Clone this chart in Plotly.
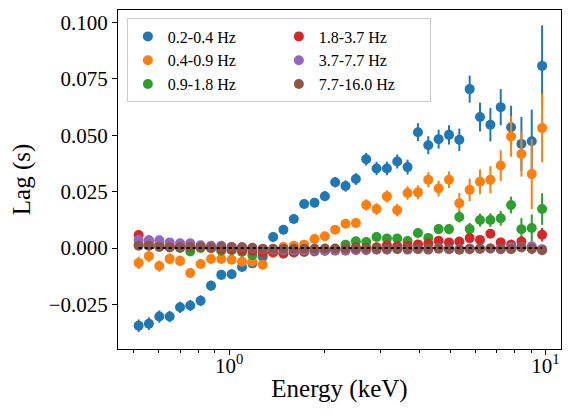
import plotly.graph_objects as go

# energy bin centres (keV)
energy = [0.518, 0.558, 0.602, 0.649, 0.700, 0.754, 0.813, 0.877, 0.945, 1.019,
          1.099, 1.185, 1.278, 1.378, 1.485, 1.602, 1.727, 1.862, 2.008, 2.165,
          2.334, 2.516, 2.713, 2.925, 3.154, 3.400, 3.666, 3.953, 4.262, 4.595,
          4.955, 5.342, 5.760, 6.210, 6.696, 7.220, 7.784, 8.393, 9.049, 9.757]

labels = ["0.2-0.4 Hz", "0.4-0.9 Hz", "0.9-1.8 Hz", "1.8-3.7 Hz", "3.7-7.7 Hz", "7.7-16.0 Hz"]

lag_02_04 = [-0.0345, -0.0336, -0.0304, -0.0304, -0.0263, -0.0255, -0.0234, -0.0167, -0.0119, -0.0116,
             -0.0084, -0.0068, -0.0039, 0.0049, 0.0081, 0.0129, 0.0195, 0.0201, 0.0230, 0.0292,
             0.0275, 0.0306, 0.0394, 0.0353, 0.0353, 0.0384, 0.0359, 0.0514, 0.0456, 0.0483,
             0.0502, 0.0480, 0.0705, 0.0581, 0.0547, 0.0625, 0.0536, 0.0462, 0.0474, 0.0808]
err_02_04 = [0.0028, 0.0028, 0.0027, 0.0025, 0.0025, 0.0024, 0.0024, 0.0022, 0.0021, 0.0021,
             0.0020, 0.0020, 0.0020, 0.0020, 0.0020, 0.0020, 0.0021, 0.0021, 0.0022, 0.0023,
             0.0025, 0.0026, 0.0028, 0.0030, 0.0030, 0.0031, 0.0033, 0.0040, 0.0040, 0.0042,
             0.0043, 0.0050, 0.0060, 0.0064, 0.0074, 0.0080, 0.0095, 0.0120, 0.0140, 0.0180]

lag_04_09 = [-0.0066, -0.0036, -0.0080, -0.0048, -0.0057, -0.0111, -0.0071, -0.0049, -0.0049, -0.0052,
             -0.0061, -0.0061, -0.0074, -0.0022, 0.0004, 0.0010, 0.0015, 0.0040, 0.0052, 0.0081,
             0.0108, 0.0111, 0.0191, 0.0173, 0.0229, 0.0168, 0.0244, 0.0247, 0.0303, 0.0264,
             0.0303, 0.0199, 0.0258, 0.0294, 0.0303, 0.0366, 0.0495, 0.0417, 0.0328, 0.0532]
err_04_09 = [0.0027, 0.0026, 0.0025, 0.0024, 0.0023, 0.0022, 0.0021, 0.0020, 0.0019, 0.0019,
             0.0018, 0.0018, 0.0018, 0.0017, 0.0017, 0.0017, 0.0017, 0.0018, 0.0018, 0.0019,
             0.0020, 0.0021, 0.0025, 0.0026, 0.0027, 0.0028, 0.0030, 0.0031, 0.0033, 0.0035,
             0.0037, 0.0045, 0.0050, 0.0055, 0.0060, 0.0068, 0.0090, 0.0100, 0.0155, 0.0152]

lag_09_18 = [0.0015, 0.0015, 0.0010, 0.0005, 0.0000, -0.0015, 0.0000, 0.0000, -0.0012, -0.0010,
             -0.0018, -0.0032, -0.0022, -0.0015, -0.0025, -0.0020, -0.0018, -0.0015, -0.0012, -0.0005,
             0.0015, 0.0030, 0.0027, 0.0049, 0.0042, 0.0042, 0.0031, 0.0067, 0.0045, 0.0084,
             0.0084, 0.0138, 0.0084, 0.0124, 0.0124, 0.0132, 0.0191, 0.0083, 0.0089, 0.0173]
err_09_18 = [0.0015, 0.0015, 0.0015, 0.0014, 0.0014, 0.0014, 0.0013, 0.0013, 0.0013, 0.0013,
             0.0012, 0.0012, 0.0012, 0.0012, 0.0012, 0.0012, 0.0012, 0.0012, 0.0012, 0.0013,
             0.0013, 0.0014, 0.0015, 0.0016, 0.0017, 0.0018, 0.0019, 0.0020, 0.0021, 0.0022,
             0.0023, 0.0025, 0.0027, 0.0029, 0.0030, 0.0033, 0.0037, 0.0050, 0.0060, 0.0070]

lag_18_37 = [0.0058, 0.0034, 0.0015, 0.0010, 0.0005, 0.0003, 0.0005, 0.0000, -0.0005, -0.0005,
             -0.0010, -0.0012, -0.0020, -0.0018, -0.0022, -0.0019, -0.0015, -0.0012, -0.0010, -0.0008,
             -0.0005, 0.0002, 0.0000, 0.0003, 0.0012, 0.0008, 0.0010, 0.0016, 0.0020, 0.0032,
             0.0025, 0.0029, 0.0044, 0.0036, 0.0063, 0.0025, 0.0015, 0.0029, -0.0002, 0.0059]
err_18_37 = [0.0015, 0.0013, 0.0012, 0.0011, 0.0010, 0.0010, 0.0010, 0.0009, 0.0009, 0.0009,
             0.0009, 0.0009, 0.0009, 0.0009, 0.0009, 0.0009, 0.0009, 0.0009, 0.0009, 0.0009,
             0.0010, 0.0010, 0.0010, 0.0011, 0.0011, 0.0012, 0.0012, 0.0013, 0.0013, 0.0014,
             0.0015, 0.0016, 0.0017, 0.0018, 0.0019, 0.0020, 0.0022, 0.0024, 0.0026, 0.0030]

lag_37_77 = [0.0037, 0.0032, 0.0034, 0.0025, 0.0021, 0.0021, 0.0012, 0.0010, 0.0010, 0.0005,
             0.0003, 0.0000, -0.0005, -0.0008, -0.0010, -0.0010, -0.0010, -0.0010, -0.0012, -0.0012,
             -0.0012, -0.0010, -0.0010, -0.0008, -0.0008, -0.0005, -0.0008, -0.0005, -0.0008, 0.0000,
             -0.0005, -0.0005, -0.0002, -0.0003, -0.0002, -0.0005, 0.0003, 0.0005, 0.0008, -0.0005]
err_37_77 = [0.0010, 0.0010, 0.0009, 0.0009, 0.0008, 0.0008, 0.0008, 0.0008, 0.0007, 0.0007,
             0.0007, 0.0007, 0.0007, 0.0007, 0.0007, 0.0007, 0.0007, 0.0007, 0.0007, 0.0007,
             0.0007, 0.0007, 0.0007, 0.0008, 0.0008, 0.0008, 0.0008, 0.0009, 0.0009, 0.0009,
             0.0010, 0.0010, 0.0010, 0.0011, 0.0011, 0.0012, 0.0012, 0.0013, 0.0014, 0.0015]

lag_77_160 = [0.0010, 0.0010, 0.0005, 0.0003, 0.0003, 0.0005, 0.0005, 0.0003, 0.0003, 0.0003,
              0.0003, 0.0001, -0.0003, -0.0003, -0.0003, -0.0003, -0.0003, -0.0003, -0.0002, -0.0002,
              -0.0002, -0.0003, -0.0003, -0.0003, -0.0003, -0.0003, -0.0003, -0.0003, -0.0003, -0.0003,
              -0.0003, -0.0008, -0.0005, -0.0003, -0.0002, -0.0003, -0.0005, 0.0002, -0.0003, -0.0010]
err_77_160 = [0.0008, 0.0008, 0.0007, 0.0007, 0.0007, 0.0006, 0.0006, 0.0006, 0.0006, 0.0006,
              0.0006, 0.0006, 0.0006, 0.0006, 0.0006, 0.0006, 0.0006, 0.0006, 0.0006, 0.0006,
              0.0006, 0.0006, 0.0006, 0.0006, 0.0006, 0.0006, 0.0006, 0.0007, 0.0007, 0.0007,
              0.0007, 0.0007, 0.0008, 0.0008, 0.0008, 0.0009, 0.0009, 0.0010, 0.0010, 0.0011]

lags = [lag_02_04, lag_04_09, lag_09_18, lag_18_37, lag_37_77, lag_77_160]
errs = [err_02_04, err_04_09, err_09_18, err_18_37, err_37_77, err_77_160]
colors = ["#1f77b4", "#ff7f0e", "#2ca02c", "#d62728", "#9467bd", "#8c564b"]
# matplotlib ncol=2 fills column-wise, plotly horizontal legend fills row-wise
ranks = [1, 3, 5, 2, 4, 6]

FONT = "Liberation Serif"

fig = go.Figure()
for lab, y, e, c, r in zip(labels, lags, errs, colors, ranks):
    fig.add_trace(go.Scatter(
        x=energy, y=y, mode="markers", name=lab, legendrank=r,
        marker=dict(color=c, size=10),
        error_y=dict(type="data", array=e, color=c, thickness=2, width=0),
    ))

# dotted zero line
fig.add_trace(go.Scatter(x=[energy[0], energy[-1]], y=[0, 0], mode="lines",
                         line=dict(color="black", width=2, dash="dot"),
                         showlegend=False, hoverinfo="skip"))

fig.update_layout(
    width=569, height=419,
    margin=dict(l=118, r=8, t=10, b=70),
    plot_bgcolor="white", paper_bgcolor="white",
    font=dict(family=FONT, size=21, color="black"),
    showlegend=True,
    legend=dict(orientation="h", x=0.02, y=0.975, xanchor="left", yanchor="top",
                entrywidth=106, entrywidthmode="pixels",
                font=dict(family=FONT, size=16),
                bgcolor="rgba(255,255,255,0.8)", bordercolor="#cccccc", borderwidth=1),
)
fig.update_xaxes(
    type="log", range=[-0.351, 1.049],
    tickvals=[1, 10], ticktext=["10<sup>0</sup>", "10<sup>1</sup>"],
    ticks="outside", ticklen=5, tickwidth=1, tickcolor="black",
    ticklabelstandoff=-7,
    minor=dict(tickvals=[0.5, 0.6, 0.7, 0.8, 0.9, 2, 3, 4, 5, 6, 7, 8, 9],
               ticks="outside", ticklen=3, tickwidth=1, tickcolor="black", showgrid=False),
    showline=True, linecolor="black", linewidth=1, mirror=True,
    showgrid=False, zeroline=False,
    title=dict(text="Energy (keV)", standoff=2),
)
fig.update_yaxes(
    range=[-0.0448, 0.1056],
    tickvals=[-0.025, 0, 0.025, 0.05, 0.075, 0.1], tickformat=".3f",
    ticks="outside", ticklen=5, tickwidth=1, tickcolor="black",
    showline=True, linecolor="black", linewidth=1, mirror=True,
    showgrid=False, zeroline=False,
    title=dict(text="Lag (s)", standoff=10),
)

# drop the browser's default page margin so the figure sits at the top-left corner
fig.write_html("out.html", config={"displayModeBar": False},
               post_script="document.body.style.margin='0';")
